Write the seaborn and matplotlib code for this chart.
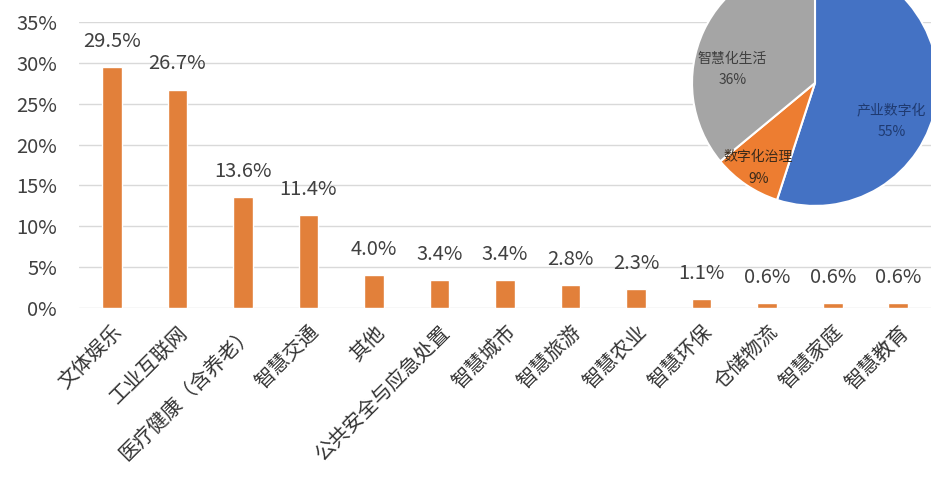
import pandas as pd
import matplotlib.pyplot as plt
import seaborn as sns
from matplotlib.ticker import PercentFormatter

sns.set_theme(style="white")
plt.rcParams["font.family"] = ["Noto Sans CJK SC", "DejaVu Sans"]

# 应用领域占比
categories = ["文体娱乐", "工业互联网", "医疗健康（含养老）", "智慧交通", "其他",
              "公共安全与应急处置", "智慧城市", "智慧旅游", "智慧农业", "智慧环保",
              "仓储物流", "智慧家庭", "智慧教育"]
shares = [29.5, 26.7, 13.6, 11.4, 4.0, 3.4, 3.4, 2.8, 2.3, 1.1, 0.6, 0.6, 0.6]

# 饼图
pie_names = ["产业数字化", "数字化治理", "智慧化生活"]
pie_values = [55, 9, 36]
pie_colors = ["#4472C4", "#ED7D31", "#A5A5A5"]

df = pd.DataFrame({"领域": categories, "占比": shares})

fig = plt.figure(figsize=(9.31, 4.88), dpi=100)
ax = fig.add_axes([0.085, 0.369, 0.915, 0.586])

sns.barplot(data=df, x="领域", y="占比", color="#E2803A", width=0.3,
            saturation=1, ax=ax)

ax.set_ylim(0, 35)
ax.set_xlim(-0.5, len(categories) - 0.5)
ax.yaxis.set_major_formatter(PercentFormatter(decimals=0))
ax.set_yticks(range(0, 36, 5))
ax.grid(axis="y", color="#D9D9D9", linewidth=1)
ax.set_axisbelow(True)
for s in ax.spines.values():
    s.set_visible(False)
ax.set_xlabel("")
ax.set_ylabel("")
ax.tick_params(axis="y", labelsize=14.5, labelcolor="#404040", length=0, pad=16)
ax.tick_params(axis="x", labelsize=14.5, labelcolor="#333333", length=0, pad=10)
plt.setp(ax.get_xticklabels(), rotation=45, ha="right", rotation_mode="anchor")

ax.bar_label(ax.containers[0], labels=[f"{v:.1f}%" for v in shares],
             padding=11, fontsize=14.5, color="#404040")

# 饼图插图
pax = fig.add_axes([0.7433, 0.578, 0.2642, 0.504])
wedges, texts = pax.pie(pie_values, colors=pie_colors, startangle=90,
                        counterclock=False,
                        labels=[f"{n}\n{v}%" for n, v in zip(pie_names, pie_values)],
                        labeldistance=0.6,
                        wedgeprops={"edgecolor": "white", "linewidth": 1.5},
                        textprops={"fontsize": 10, "ha": "center", "va": "center"})
pax.set_xlim(-1, 1)
pax.set_ylim(-1, 1)
pax.set_aspect("equal")
positions = [(0.62, -0.31), (-0.46, -0.69), (-0.67, 0.11)]
text_colors = ["#1F3A70", "#3A2A1A", "#3F3F3F"]
for t, p, c in zip(texts, positions, text_colors):
    t.set_position(p)
    t.set_color(c)
    t.set_ha("center")
    t.set_linespacing(1.7)

fig.savefig("out.png", dpi=100)
